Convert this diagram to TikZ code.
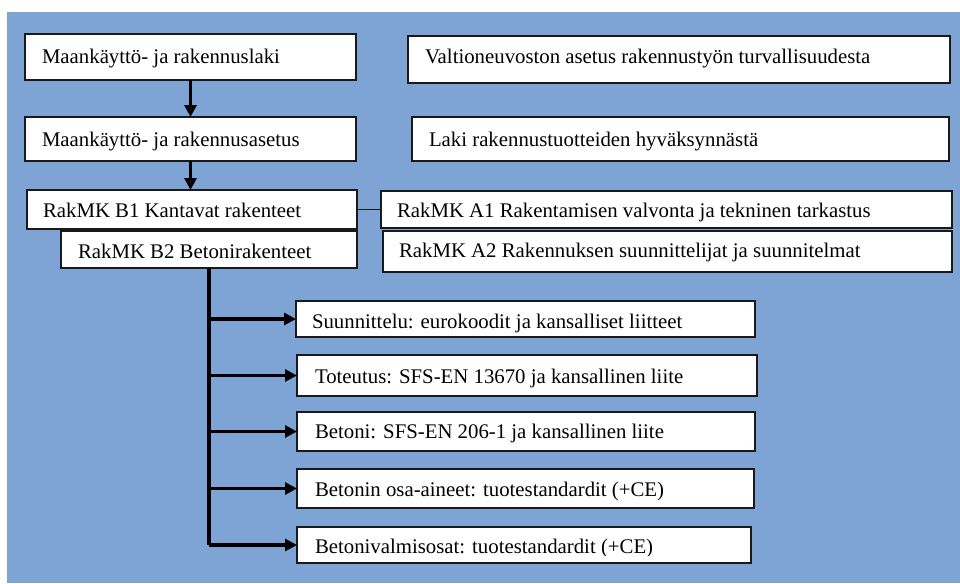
\documentclass[tikz,border=0pt]{standalone}
\usepackage{fontspec}
\setmainfont{Liberation Serif}
\usetikzlibrary{arrows.meta}
\definecolor{bgblue}{RGB}{126,163,213}
\definecolor{edge}{RGB}{25,25,25}
\tikzset{
  boxst/.style={draw=edge, fill=white, line width=1.1pt, inner sep=0pt, outer sep=0pt, anchor=north west},
  txt/.style={inner sep=0pt, outer sep=0pt, anchor=base west, font=\fontsize{15.6}{18}\selectfont, text=black},
  arr/.style={draw=black, line width=2.3pt, -{Triangle[length=9pt,width=9pt]}},
  trunk/.style={draw=black, line width=2.3pt},
  thinline/.style={draw=edge, line width=1.1pt}
}
\newcommand\pbox[8]{%
  \node[boxst, minimum width={(#4-#2)*0.75pt}, minimum height={(#5-#3)*0.75pt}] (#1) at (#2,#3) {};
  \node[txt] (#1t) at (#6,#7) {#8};}
\begin{document}
\begin{tikzpicture}[x=0.75pt,y=-0.75pt]
\useasboundingbox (0,0) rectangle (960,583);
\fill[white] (0,0) rectangle (960,583);
\fill[bgblue] (7,12) rectangle (960,583);
% left column
\pbox{n1}{25}{34}{356}{80}{42}{63}{Maankäyttö- ja rakennuslaki}
\pbox{n2}{25}{117}{356}{161}{42}{146}{Maankäyttö- ja rakennusasetus}
\pbox{b1}{27}{190}{357}{229}{43}{217}{RakMK B1 Kantavat rakenteet}
\pbox{b2}{61}{231}{357}{268}{78}{258}{RakMK B2 Betonirakenteet}
% right column
\pbox{v1}{408}{36}{950}{83}{425}{63}{Valtioneuvoston asetus rakennustyön turvallisuudesta}
\pbox{v2}{412}{117}{949}{161}{429}{146}{Laki rakennustuotteiden hyväksynnästä}
\pbox{a1}{381}{191}{952}{228}{397}{217}{RakMK A1 Rakentamisen valvonta ja tekninen tarkastus}
\pbox{a2}{383}{231}{952}{272}{399}{257}{RakMK A2 Rakennuksen suunnittelijat ja suunnitelmat}
% lower column
\pbox{c1}{296}{301}{755}{337}{312}{328}{Suunnittelu: eurokoodit ja kansalliset liitteet}
\pbox{c2}{297}{355}{757}{396}{315}{383}{Toteutus: SFS-EN 13670 ja kansallinen liite}
\pbox{c3}{297}{412}{755}{451}{315}{438}{Betoni: SFS-EN 206-1 ja kansallinen liite}
\pbox{c4}{297}{469}{754}{508}{315}{496}{Betonin osa-aineet: tuotestandardit (+CE)}
\node[boxst, minimum width={(751-297)*0.75pt}, minimum height={(563-527)*0.75pt}] (c5) at (297,527) {};
\begin{scope}
  \clip (297,527) rectangle (751,555);
  \node[txt] (c5t) at (315,553) {Betonivalmisosat: tuotestandardit (+CE)};
\end{scope}
% connectors
\draw[arr] (n1.south) -- (n2.north);
\draw[arr] (n2.south) -- (n2.south |- b1.north);
\draw[thinline] (b1.east) -- (a1.west);
\draw[trunk] (b2.south) -- (b2.south |- c5.west);
\foreach \c in {c1,c2,c3,c4,c5}
  \draw[arr] (b2.south |- \c.west) -- (\c.west);
\end{tikzpicture}
\end{document}
